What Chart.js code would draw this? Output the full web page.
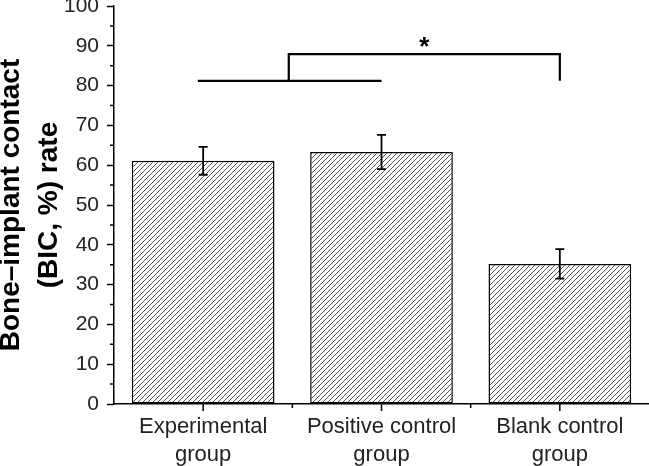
<!DOCTYPE html>
<html>
<head>
    <title>Bone-implant contact</title>
    <script src="https://cdn.jsdelivr.net/npm/chart.js@4.4.0/dist/chart.umd.min.js"></script>
    <style>
        body { margin: 0; background: #fff; }
    </style>
</head>
<body>
    <canvas id="myChart" width="649" height="466"></canvas>
    <script>
      // values
      var groups = [['Experimental', 'group'], ['Positive control', 'group'], ['Blank control', 'group']];
      var bicRate = [61.1, 63.3, 35.2];
      var bicError = [3.5, 4.3, 3.7];
      var yMinorTicks = [5, 15, 25, 35, 45, 55, 65, 75, 85, 95];

      // significance bracket, in data units (x = category index)
      var bracketBase = { from: -0.03, to: 1, y: 81.2 };
      var bracketTop = { from: 0.48, to: 2, y: 87.9 };
      var starMark = { x: 1.24, y: 91, text: '*' };

      var fontName = 'Arial, "Liberation Sans", sans-serif';

      function hatch() {
        var c = document.createElement('canvas');
        c.width = 5; c.height = 5;
        var g = c.getContext('2d');
        g.fillStyle = '#fff';
        g.fillRect(0, 0, 5, 5);
        g.strokeStyle = '#555';
        g.lineWidth = 1;
        g.beginPath();
        g.moveTo(0, 5); g.lineTo(5, 0);
        g.moveTo(-1, 1); g.lineTo(1, -1);
        g.moveTo(4, 6); g.lineTo(6, 4);
        g.stroke();
        return g.createPattern(c, 'repeat');
      }

      var extras = {
        id: 'extras',
        afterDraw: function(chart) {
          var ctx = chart.ctx;
          var x = chart.scales.x, y = chart.scales.y;
          ctx.save();
          ctx.strokeStyle = '#000';

          // minor y ticks
          ctx.lineWidth = 1.5;
          ctx.beginPath();
          yMinorTicks.forEach(function(v) {
            var py = y.getPixelForValue(v);
            ctx.moveTo(x.left - 4, py); ctx.lineTo(x.left, py);
          });
          // x ticks: centres long, boundaries short
          groups.forEach(function(g, i) {
            var px = x.getPixelForValue(i);
            ctx.moveTo(px, y.bottom); ctx.lineTo(px, y.bottom + 7);
            if (i > 0) {
              var pb = x.getPixelForValue(i - 0.5);
              ctx.moveTo(pb, y.bottom); ctx.lineTo(pb, y.bottom + 4);
            }
          });
          ctx.stroke();

          // error bars
          ctx.lineWidth = 1.8;
          ctx.beginPath();
          bicRate.forEach(function(v, i) {
            var px = x.getPixelForValue(i);
            var hi = y.getPixelForValue(v + bicError[i]);
            var lo = y.getPixelForValue(v - bicError[i]);
            ctx.moveTo(px, hi); ctx.lineTo(px, lo);
            ctx.moveTo(px - 4.5, hi); ctx.lineTo(px + 4.5, hi);
            ctx.moveTo(px - 4.5, lo); ctx.lineTo(px + 4.5, lo);
          });
          ctx.stroke();

          // significance bracket
          ctx.lineWidth = 2.2;
          ctx.beginPath();
          var yb = y.getPixelForValue(bracketBase.y);
          var yt = y.getPixelForValue(bracketTop.y);
          ctx.moveTo(x.getPixelForValue(bracketBase.from), yb);
          ctx.lineTo(x.getPixelForValue(bracketBase.to), yb);
          ctx.moveTo(x.getPixelForValue(bracketTop.from), yb);
          ctx.lineTo(x.getPixelForValue(bracketTop.from), yt);
          ctx.lineTo(x.getPixelForValue(bracketTop.to), yt);
          ctx.lineTo(x.getPixelForValue(bracketTop.to), yb);
          ctx.stroke();

          ctx.fillStyle = '#000';
          ctx.font = 'bold 26px ' + fontName;
          ctx.textAlign = 'center';
          ctx.textBaseline = 'alphabetic';
          var m = ctx.measureText(starMark.text);
          var sy = y.getPixelForValue(starMark.y) + (m.actualBoundingBoxAscent - m.actualBoundingBoxDescent) / 2;
          ctx.fillText(starMark.text, x.getPixelForValue(starMark.x), sy);
          ctx.restore();
        }
      };

      var ctx = document.getElementById('myChart').getContext('2d');
      var myChart = new Chart(ctx, {
          type: 'bar',
          data: {
              labels: groups,
              datasets: [{
                  data: bicRate,
                  backgroundColor: hatch(),
                  borderColor: '#000',
                  borderWidth: 1.5,
                  borderSkipped: false,
                  categoryPercentage: 1,
                  barPercentage: 0.8
              }]
          },
          options: {
              responsive: false,
              animation: false,
              layout: { padding: { top: 6, left: 0, right: 0, bottom: 0 } },
              plugins: { legend: { display: false }, tooltip: { enabled: false } },
              scales: {
                  x: {
                      grid: { drawOnChartArea: false, drawTicks: false },
                      border: { color: '#000', width: 1.5 },
                      ticks: {
                          color: '#222', padding: 9, maxRotation: 0, autoSkip: false,
                          font: { family: fontName, size: 22, lineHeight: '28px' }
                      },
                      afterFit: function(s) { s.height = 62; s.paddingLeft = 0; s.paddingRight = 0; }
                  },
                  y: {
                      min: 0, max: 100,
                      grid: { drawOnChartArea: false, tickLength: 7, tickColor: '#000', tickWidth: 1.5 },
                      border: { color: '#000', width: 1.5 },
                      ticks: {
                          stepSize: 10, color: '#222', padding: 8,
                          font: { family: fontName, size: 21 }
                      },
                      title: {
                          display: true,
                          text: ['Bone\u2013implant contact', '(BIC, %) rate'],
                          color: '#000',
                          padding: { top: -8, bottom: 0 },
                          font: { family: fontName, size: 28, weight: 'bold', lineHeight: '38px' }
                      },
                      afterFit: function(s) { s.width = 114; s.paddingTop = 0; s.paddingBottom = 0; }
                  }
              }
          },
          plugins: [extras]
      });
    </script>
  </body>
</html>
